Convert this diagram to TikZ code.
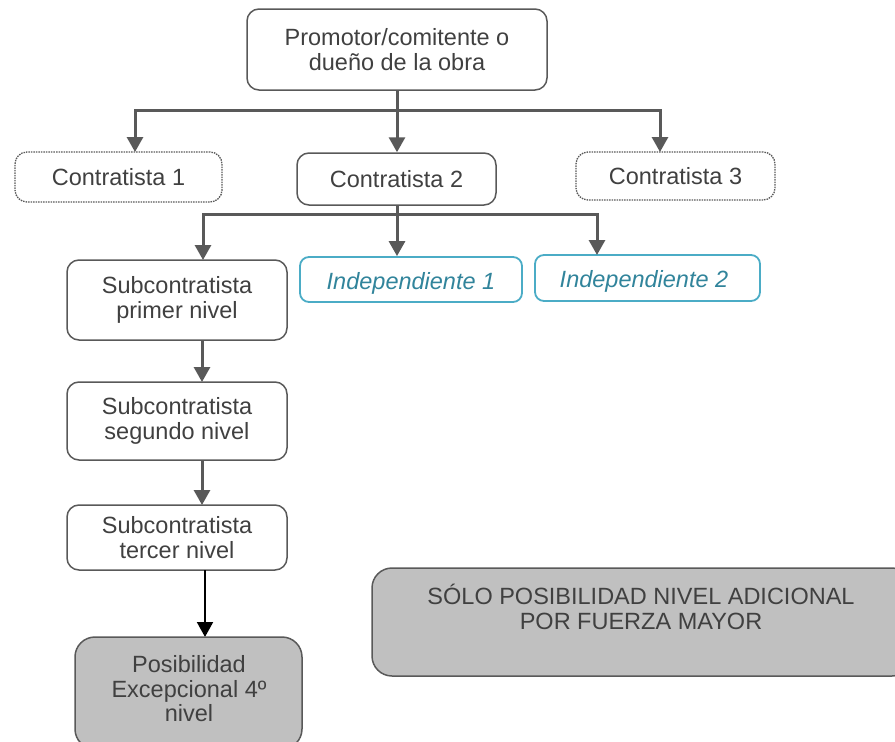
\documentclass[tikz,border=0pt]{standalone}
\usepackage{fontspec}
\setmainfont{Liberation Sans}
\usetikzlibrary{arrows.meta,calc}
\definecolor{txt}{HTML}{404040}
\definecolor{brd}{HTML}{595959}
\definecolor{teal}{HTML}{4BACC6}
\definecolor{tealtxt}{HTML}{31849B}
\definecolor{fillg}{HTML}{C0C0C0}
\tikzset{
  box/.style={draw=brd, line width=1.5pt, rounded corners=12pt, inner sep=0pt, align=center, text=txt,
     font=\fontsize{23.5}{24.5}\selectfont},
  dotbox/.style={box, densely dotted, line width=1.3pt},
  indbox/.style={draw=teal, line width=1.8pt, rounded corners=9pt, inner sep=0pt},
  graybox/.style={box, fill=fillg, rounded corners=20pt},
  lbl/.style={inner sep=0pt, align=center, text=txt, font=\fontsize{23.5}{24.5}\selectfont},
  arr/.style={draw=brd, line width=3pt, -{Triangle[width=16pt,length=15pt]}},
  ln/.style={draw=brd, line width=3pt},
  barr/.style={draw=black, line width=2pt, -{Triangle[width=16pt,length=15pt]}},
}
\begin{document}
\begin{tikzpicture}[x=1pt,y=-1pt]
\useasboundingbox (0,0) rectangle (895,742);
\begin{scope}
\clip (0,0) rectangle (895,742);
% top
\node[box, minimum width=300pt, minimum height=81pt] (prom) at (397,49.5) {Promotor/comitente o\\dueño de la obra};
% contratistas
\node[dotbox, minimum width=207pt, minimum height=50pt] (c1) at (118.5,177) {Contratista 1};
\node[box, minimum width=199pt, minimum height=52pt] (c2) at (396.5,179) {Contratista 2};
\node[dotbox, minimum width=199pt, minimum height=48pt] (c3) at (675.5,176) {Contratista 3};
\coordinate (j1) at (397,110);
\coordinate (c1t) at (135,152);
\coordinate (c3t) at (660,152);
\draw[ln] (prom.south -| j1) -- (j1);
\draw[arr] (j1) -| (c1t);
\draw[arr] (j1) -| (c3t);
\draw[arr] (j1) -- (j1 |- c2.north);
% level 2
\node[box, minimum width=220pt, minimum height=80pt] (s1) at (177,300) {Subcontratista\\primer nivel};
\node[indbox, minimum width=222pt, minimum height=45pt] (i1) at (411,279.5) {};
\node[indbox, minimum width=225pt, minimum height=46pt] (i2) at (647.5,278) {};
\node[inner sep=0pt, anchor=base, text=tealtxt, font=\fontsize{23.5}{24.5}\selectfont\itshape] (i1t) at (411,289) {Independiente 1};
\node[inner sep=0pt, anchor=base, text=tealtxt, font=\fontsize{23.5}{24.5}\selectfont\itshape] (i2t) at (644,287) {Independiente 2};
\coordinate (j2) at (397,214);
\coordinate (s1t) at (203,260);
\coordinate (i2top) at (597,255);
\draw[ln] (c2.south -| j2) -- (j2);
\draw[arr] (j2) -| (s1t);
\draw[arr] (j2) -| (i2top);
\draw[arr] (j2) -- (j2 |- i1.north);
% chain
\node[box, minimum width=220pt, minimum height=78pt] (s2) at (177,421) {Subcontratista\\segundo nivel};
\node[box, minimum width=220pt, minimum height=65pt] (s3) at (177,537.5) {Subcontratista\\tercer nivel};
\coordinate (s1b) at (202,340);
\coordinate (s2t) at (202,382);
\coordinate (s2b) at (202,460);
\coordinate (s3t) at (202,505);
\coordinate (s3b) at (205,570);
\coordinate (p4t) at (205,637);
\draw[arr] (s1b) -- (s2t);
\draw[arr] (s2b) -- (s3t);
\draw[barr] (s3b) -- (p4t);
\node[graybox, minimum width=227pt, minimum height=112pt] (p4) at (188.5,693) {};
\node[lbl] (p4t1) at (189,689) {Posibilidad\\Excepcional 4º\\nivel};
% right box
\node[graybox, minimum width=540pt, minimum height=108pt] (fm) at (642,622) {};
\node[lbl] (fmt) at (641,607) {SÓLO POSIBILIDAD NIVEL ADICIONAL\\POR FUERZA MAYOR};
\end{scope}
\end{tikzpicture}
\end{document}
